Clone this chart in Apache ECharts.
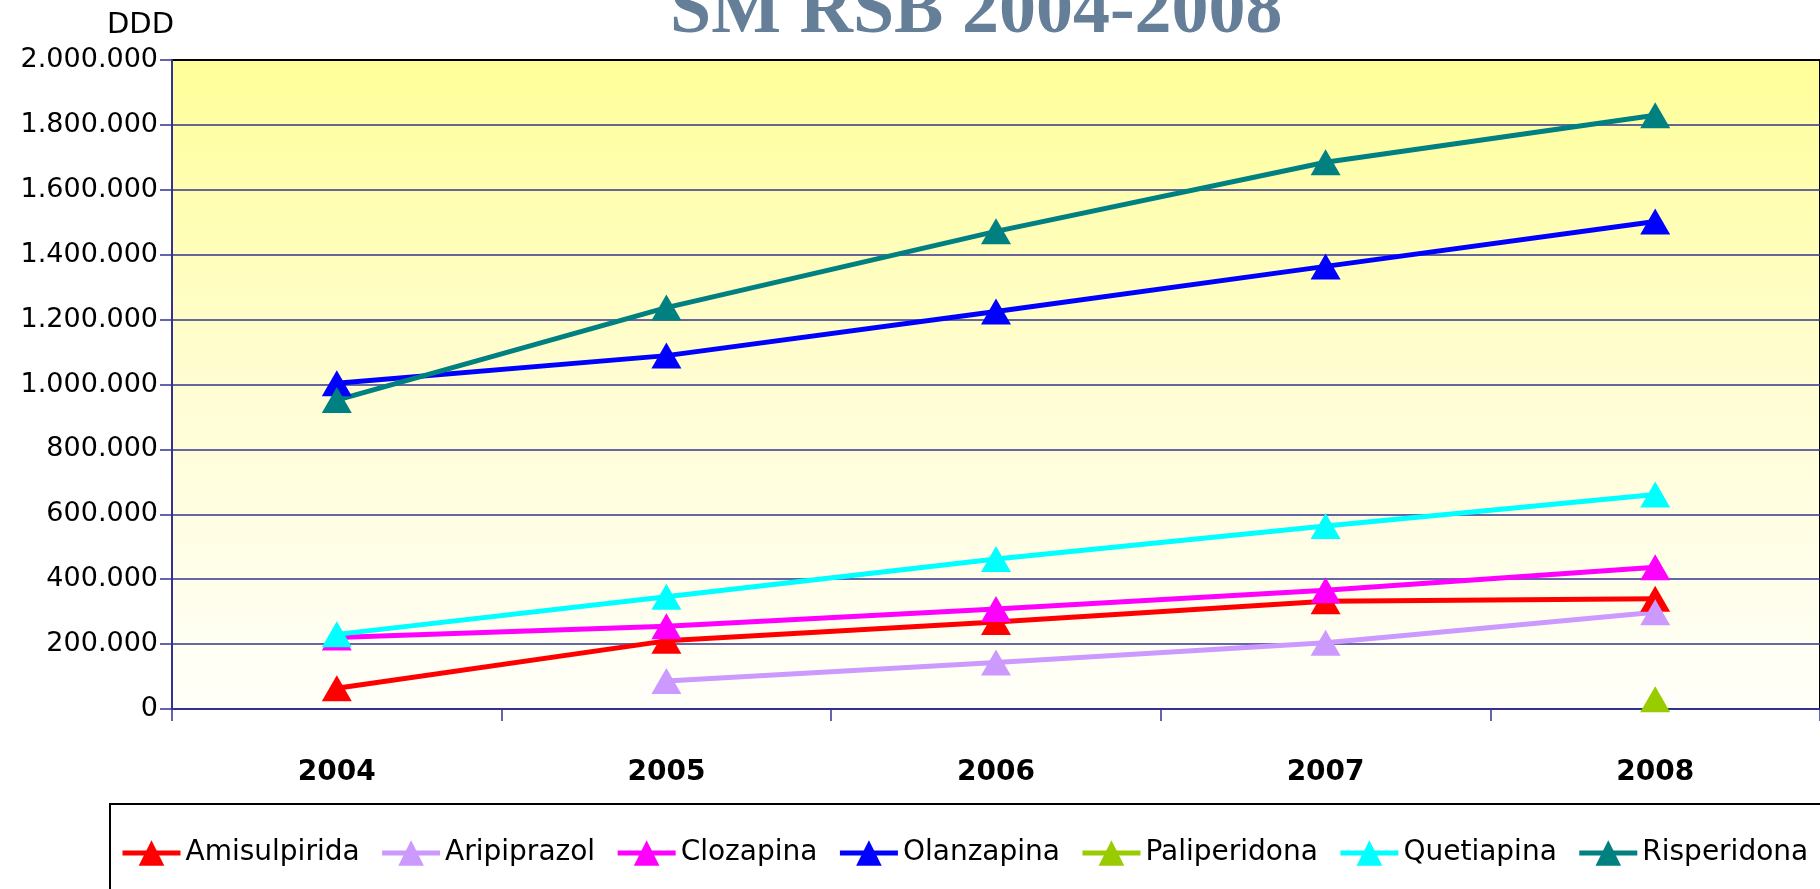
<!DOCTYPE html>
<html>
<head>
<meta charset="utf-8">
<title>SM RSB 2004-2008</title>
<script src="https://cdn.jsdelivr.net/npm/echarts@6/dist/echarts.min.js"></script>
<style>
  html, body { margin: 0; padding: 0; background: #fff; }
  #chart { width: 1820px; height: 889px; }
</style>
</head>
<body>
<div id="chart"></div>
<script>
// data (DDD per year)
const years = ['2004', '2005', '2006', '2007', '2008']
const amisulpirida = [64000, 210000, 268000, 332000, 340000]
const aripiprazol = [null, 86000, 143000, 204000, 298000]
const clozapina = [220000, 255000, 308000, 366000, 437000]
const olanzapina = [1004000, 1089000, 1225000, 1364000, 1502000]
const paliperidona = [null, null, null, null, 30000]
const quetiapina = [230000, 346000, 462000, 564000, 661000]
const risperidona = [952000, 1237000, 1472000, 1685000, 1830000]

const seriesNames = ['Amisulpirida', 'Aripiprazol', 'Clozapina', 'Olanzapina', 'Paliperidona', 'Quetiapina', 'Risperidona']
const seriesData = [amisulpirida, aripiprazol, clozapina, olanzapina, paliperidona, quetiapina, risperidona]
const colors = ['#FF0000', '#CC99FF', '#FF00FF', '#0000FF', '#99CC00', '#00FFFF', '#008080']

const font = 'DejaVu Sans'
const navy = '#33338f'

// 2000000 -> "2.000.000"
const formatDots = (v) => String(v).replace(/\B(?=(\d{3})+(?!\d))/g, '.')

const chart = echarts.init(document.getElementById('chart'), null, { renderer: 'canvas' })

const option = {
  animation: false,
  backgroundColor: '#ffffff',
  color: colors,
  title: {
    text: 'SM RSB 2004-2008',
    left: 670,
    top: -24,
    padding: 0,
    textStyle: {
      fontFamily: 'Liberation Serif',
      fontWeight: 'bold',
      fontSize: 74,
      color: '#667f99',
    },
  },
  legend: {
    data: seriesNames,
    left: 110,
    top: 804,
    width: 1780,
    padding: [35, 60, 80, 10],
    itemWidth: 58,
    itemHeight: 32,
    itemGap: 20,
    backgroundColor: '#ffffff',
    borderColor: '#000000',
    borderWidth: 2,
    lineStyle: { width: 5 },
    textStyle: {
      fontFamily: font,
      fontSize: 28,
      color: '#000',
    },
  },
  grid: {
    left: 172,
    top: 60,
    width: 1655,
    bottom: 180,
    show: true,
    borderColor: '#000000',
    borderWidth: 2,
    backgroundColor: new echarts.graphic.LinearGradient(0, 0, 0, 1, [
      { offset: 0, color: '#ffff99' },
      { offset: 0.5, color: '#fffdd2' },
      { offset: 1, color: '#fffffa' },
    ]),
  },
  xAxis: {
    type: 'category',
    data: years,
    boundaryGap: true,
    axisLine: { lineStyle: { color: navy, width: 2 } },
    axisTick: { show: true, length: 12, lineStyle: { color: navy, width: 1.5 } },
    axisLabel: {
      fontFamily: font,
      fontSize: 28,
      fontWeight: 'bold',
      color: '#000',
      margin: 50,
    },
    splitLine: { show: false },
  },
  yAxis: {
    type: 'value',
    min: 0,
    max: 2000000,
    interval: 200000,
    name: 'DDD',
    nameLocation: 'end',
    nameGap: 35,
    nameTextStyle: {
      fontFamily: font,
      fontSize: 29,
      color: '#000',
      align: 'right',
      verticalAlign: 'middle',
      padding: [0, -2, 0, 0],
    },
    axisLine: { show: true, lineStyle: { color: navy, width: 2 } },
    axisTick: { show: true, length: 12, lineStyle: { color: navy, width: 1.5 } },
    axisLabel: {
      fontFamily: font,
      fontSize: 27,
      color: '#000',
      margin: 14,
      formatter: (v) => formatDots(v),
    },
    splitLine: { show: true, showMaxLine: false, lineStyle: { color: navy, width: 1.5 } },
  },
  series: seriesNames.map((name, i) => ({
    name,
    type: 'line',
    data: seriesData[i],
    symbol: 'triangle',
    symbolSize: [30, 26],
    showSymbol: true,
    showAllSymbol: true,
    connectNulls: false,
    lineStyle: { color: colors[i], width: 5 },
    itemStyle: { color: colors[i] },
    emphasis: { disabled: true },
  })),
}

chart.setOption(option)
</script>
</body>
</html>
